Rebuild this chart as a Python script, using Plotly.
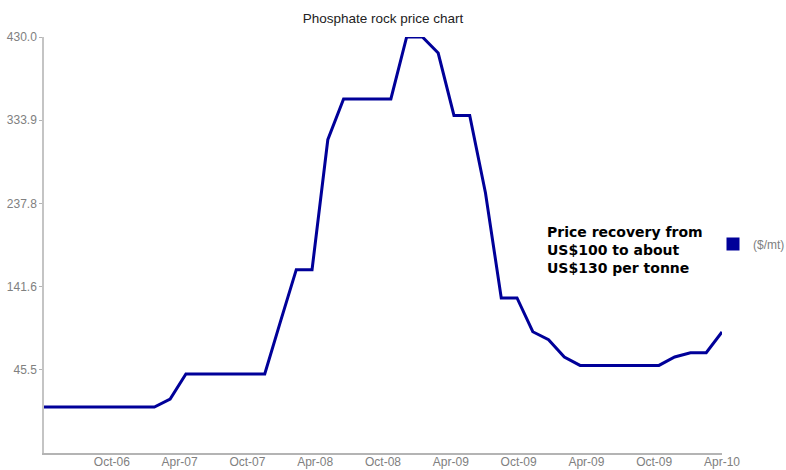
import plotly.graph_objects as go

# ---- data ----
prices = [2.5, 2.5, 2.5, 2.5, 2.5, 2.5, 2.5, 2.5, 11.8, 40.7,
          40.7, 40.7, 40.7, 40.7, 40.7, 101.5, 161.2, 161.2, 311.3, 358.4,
          358.4, 358.4, 358.4, 430.0, 430.0, 411.5, 339.4, 339.4, 249.8, 128.5,
          128.5, 89.5, 80.3, 60.3, 50.6, 50.6, 50.6, 50.6, 50.6, 50.6,
          60.3, 65.3, 65.3, 89.2]
x_labels = ["Oct-06", "Apr-07", "Oct-07", "Apr-08", "Oct-08",
            "Apr-09", "Oct-09", "Apr-09", "Oct-09", "Apr-10"]
y_ticks = [45.5, 141.6, 237.8, 333.9, 430.0]
y_min, y_max = -50.6, 430.0
series_name = "($/mt)"
title_text = "Phosphate rock price chart"
note_text = "Price recovery from<br>US$100 to about<br>US$130 per tonne"

W, H = 786, 470
L, R, T, B = 44, 64, 37, 17
LINE_COLOR = "#000099"

xs = list(range(len(prices)))
n_int = len(prices) - 1
label_pos = [n_int * (k + 1) / len(x_labels) for k in range(len(x_labels))]

fig = go.Figure()
fig.add_trace(go.Scatter(
    x=xs, y=prices, mode="lines",
    line=dict(color=LINE_COLOR, width=3),
    showlegend=False, cliponaxis=False, hoverinfo="skip",
))
fig.add_trace(go.Scatter(
    x=[None], y=[None], mode="markers", name=series_name,
    marker=dict(symbol="square", size=13, color=LINE_COLOR),
    showlegend=True,
))

fig.update_layout(
    width=W, height=H,
    margin=dict(l=L, r=R, t=T, b=B, pad=0, autoexpand=False),
    paper_bgcolor="white", plot_bgcolor="white",
    font=dict(family="Liberation Sans, Arial, sans-serif", size=12, color="#808080"),
    title=dict(text=title_text, x=(L + (W - L - R) / 2) / W, xanchor="center",
               y=1 - 18 / H, yanchor="middle", yref="container",
               font=dict(size=13.5, color="#222222",
                         family="Liberation Sans, Arial, sans-serif")),
    showlegend=True,
    legend=dict(xref="container", x=713 / W, xanchor="left",
                yref="container", y=1 - 244 / H, yanchor="middle",
                bgcolor="rgba(0,0,0,0)", borderwidth=0,
                font=dict(size=12, color="#808080"),
                itemwidth=30, tracegroupgap=0),
    xaxis=dict(range=[0, n_int], tickmode="array", tickvals=label_pos,
               ticktext=x_labels, showgrid=False, zeroline=False,
               showline=True, linecolor="#b4b4b4", linewidth=1.5,
               ticks="", automargin=False, fixedrange=True,
               ticklabelstandoff=-3,
               tickfont=dict(size=12, color="#808080")),
    yaxis=dict(range=[y_min, y_max], tickmode="array", tickvals=y_ticks,
               tickformat=".1f", showgrid=False, zeroline=False,
               showline=True, linecolor="#c4c4c4", linewidth=1.5,
               ticks="outside", ticklen=3, tickcolor="#b4b4b4", tickwidth=1,
               automargin=False, fixedrange=True,
               tickfont=dict(size=12, color="#808080")),
    annotations=[dict(
        text=note_text, xref="paper", yref="paper",
        x=(545 - L) / (W - L - R), xanchor="left",
        y=(H - B - 250) / (H - T - B), yanchor="middle",
        align="left", showarrow=False,
        font=dict(family="DejaVu Sans, Verdana, sans-serif", size=14,
                  color="#000000", weight="bold"),
    )],
)

fig.write_html("out.html")
